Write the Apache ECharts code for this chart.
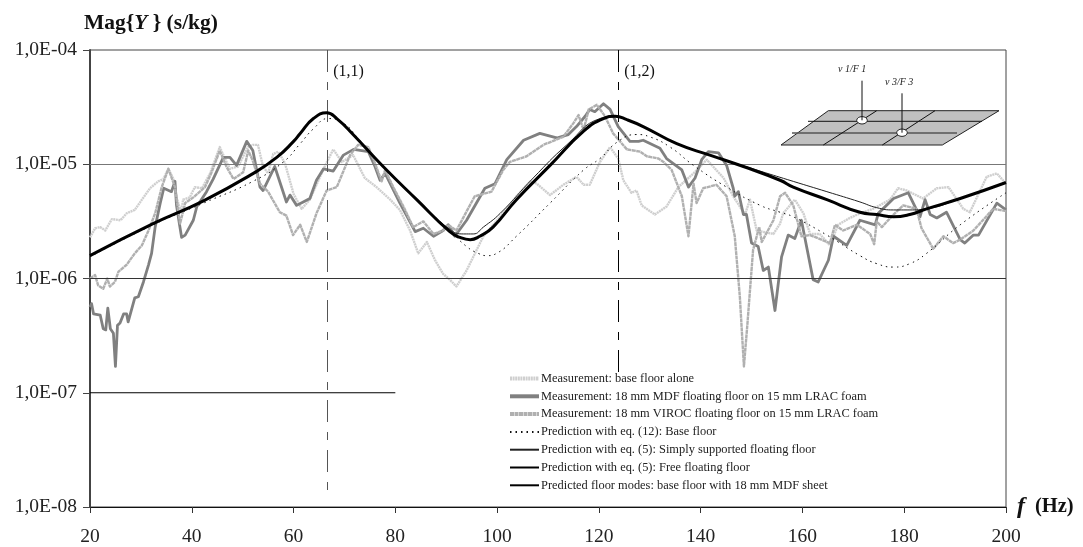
<!DOCTYPE html>
<html><head><meta charset="utf-8"><style>html,body{margin:0;padding:0;background:#fff}#c{width:1083px;height:547px}</style>
<script src="https://cdn.jsdelivr.net/npm/echarts@6/dist/echarts.min.js"></script></head><body><div id="c"></div>
<script>
// Every pair: [frequency in Hz, log10 of Mag{Y} in s/kg].
const baseFloorMeasured = [[20,-5.64],[21,-5.56],[22,-5.55],[23,-5.58],[24.3,-5.48],[26,-5.49],[27.2,-5.43],[28.8,-5.40],[30.2,-5.31],[31.8,-5.21],[33.4,-5.15],[34.4,-5.13],[35.4,-5.04],[36.4,-5.13],[37,-5.29],[37.9,-5.42],[38.3,-5.31],[39.6,-5.29],[40.6,-5.20],[42,-5.21],[43.6,-5.08],[45.5,-4.85],[46.5,-4.95],[47.5,-5.04],[49.1,-5.02],[51,-4.85],[52,-4.83],[53,-4.83],[54,-5.02],[55,-5.08],[56,-4.91],[57,-4.89],[58.3,-4.99],[60,-5.26],[61.6,-5.39],[63.2,-5.31],[65.9,-5.04],[67.8,-4.87],[69.5,-4.98],[71.7,-4.92],[74,-5.12],[76.3,-5.20],[79,-5.31],[80.9,-5.40],[82.9,-5.58],[84.5,-5.78],[86.2,-5.68],[87.8,-5.84],[89.4,-5.96],[90.7,-6.01],[92,-6.07],[94,-5.93],[97.3,-5.63],[100.6,-5.46],[103.8,-5.28],[106.5,-5.15],[107.8,-5.17],[110.4,-5.27],[113,-5.18],[115.6,-5.11],[117,-5.18],[118.2,-5.18],[120.2,-4.98],[122.2,-4.85],[123.8,-4.95],[124.8,-5.14],[126.4,-5.25],[127.4,-5.23],[128.4,-5.36],[131,-5.44],[133.3,-5.37],[135.6,-5.20],[138.6,-5.08],[141.2,-4.96],[144.5,-5.12],[146.4,-5.28],[148.7,-5.44],[149.7,-5.31],[151,-5.58],[154.3,-5.61],[155.6,-5.52],[156.2,-5.43],[158.5,-5.31],[160.2,-5.43],[161.5,-5.61],[163.4,-5.61],[165.4,-5.71],[167,-5.53],[169.3,-5.47],[171.3,-5.43],[173.9,-5.39],[177.2,-5.31],[178.8,-5.21],[180.5,-5.23],[183.7,-5.30],[186.4,-5.21],[188.7,-5.20],[191.6,-5.39],[192.9,-5.42],[196.2,-5.11],[198.2,-5.08],[200,-5.17]];
const mdfFloorMeasured = [[20,-6.25],[20.3,-6.22],[20.7,-6.31],[22,-6.32],[22.6,-6.44],[23.1,-6.45],[23.5,-6.26],[24,-6.44],[24.6,-6.48],[25,-6.77],[25.4,-6.41],[25.9,-6.39],[26.6,-6.31],[27.2,-6.31],[27.5,-6.38],[28.8,-6.17],[29.5,-6.16],[30.5,-6.03],[31.5,-5.88],[32.1,-5.78],[32.8,-5.55],[33.8,-5.34],[34.5,-5.21],[36,-5.24],[36.7,-5.15],[37,-5.36],[37.6,-5.53],[38,-5.64],[38.7,-5.62],[40.3,-5.49],[41,-5.37],[42.9,-5.24],[44.2,-5.13],[46.2,-4.94],[47.5,-4.94],[48.8,-5.01],[50.8,-4.80],[52,-4.88],[53.4,-5.20],[54,-5.23],[56.3,-5.02],[58.6,-5.33],[59.3,-5.27],[60.6,-5.36],[61.9,-5.33],[63.2,-5.30],[64.5,-5.14],[65.9,-5.04],[67.8,-5.06],[69.8,-4.92],[71.8,-4.87],[74.7,-4.89],[76,-5.02],[77,-5.14],[78,-5.08],[80.9,-5.34],[83.9,-5.59],[85.5,-5.56],[87.5,-5.63],[89.4,-5.58],[90.4,-5.53],[91.7,-5.63],[94,-5.49],[97.6,-5.21],[99.6,-5.17],[101.9,-4.96],[105.2,-4.79],[108.4,-4.73],[111.7,-4.77],[114,-4.74],[115.6,-4.67],[117.3,-4.58],[118.2,-4.52],[119.2,-4.54],[120.9,-4.47],[122.2,-4.52],[123.8,-4.67],[126.1,-4.80],[127.8,-4.80],[128.7,-4.79],[132,-4.86],[133.3,-4.95],[136.3,-5.05],[137.6,-5.20],[138.9,-5.12],[140.2,-4.96],[141.5,-4.89],[143.5,-4.90],[145.1,-5.01],[146.4,-5.21],[146.7,-5.28],[147.4,-5.24],[148.4,-5.44],[149,-5.44],[150,-5.69],[151.3,-5.72],[152.3,-5.93],[153.3,-5.90],[154.6,-6.28],[155.9,-5.81],[157.2,-5.62],[158.5,-5.65],[159.8,-5.49],[160.5,-5.65],[162.1,-6.01],[163.1,-6.03],[165.1,-5.84],[166.1,-5.63],[168.7,-5.71],[171.3,-5.49],[174.3,-5.53],[174.9,-5.43],[177.9,-5.30],[180.8,-5.25],[183.1,-5.46],[184.1,-5.31],[185.1,-5.44],[186.4,-5.47],[188.3,-5.42],[191,-5.66],[191.9,-5.69],[193.6,-5.62],[194.6,-5.62],[198.2,-5.34],[200,-5.40]];
const virocFloorMeasured = [[20,-6.0],[21,-5.97],[21.6,-6.06],[22.6,-6.09],[23.4,-6.0],[23.9,-6.07],[24.9,-6.03],[25.6,-5.94],[27.2,-5.88],[28.8,-5.78],[30.2,-5.71],[31.5,-5.58],[32.8,-5.43],[34.1,-5.2],[35.4,-5.04],[36.7,-5.2],[37.7,-5.52],[38.7,-5.34],[40.3,-5.29],[42.6,-5.2],[43.9,-5.07],[45.5,-4.88],[46.8,-5.02],[48.2,-5.13],[50.1,-5.07],[51.1,-4.88],[52,-4.97],[53.4,-5.17],[55,-5.24],[57.3,-5.42],[58.6,-5.45],[59.9,-5.62],[61.3,-5.53],[62.6,-5.68],[64.5,-5.43],[66.5,-5.23],[68.5,-5.20],[71.1,-4.92],[72.7,-4.83],[74.7,-4.85],[76,-4.99],[77.3,-5.15],[78,-5.05],[79.6,-5.20],[81.6,-5.37],[83.5,-5.55],[85.5,-5.50],[87.5,-5.61],[89.4,-5.58],[90.4,-5.53],[92,-5.58],[95.6,-5.28],[98.9,-5.24],[101.2,-5.05],[102.5,-4.98],[105.8,-4.93],[109.1,-4.83],[113,-4.76],[115,-4.64],[116,-4.57],[117,-4.70],[118,-4.52],[119.6,-4.48],[121.2,-4.58],[122.8,-4.73],[125.5,-4.87],[128.1,-4.89],[129.4,-4.93],[131.7,-4.95],[132.7,-4.98],[134.3,-5.05],[136.3,-5.28],[137.6,-5.63],[138.6,-5.17],[139.2,-5.34],[140.5,-5.21],[143.1,-5.18],[145.1,-5.28],[146.7,-5.63],[147.7,-6.16],[148.5,-6.77],[149.2,-6.39],[150.3,-5.75],[151.5,-5.55],[152,-5.68],[154.3,-5.49],[155.6,-5.28],[156.6,-5.25],[158.2,-5.36],[159.8,-5.63],[161.5,-5.62],[165.4,-5.69],[166.4,-5.53],[168,-5.58],[170.7,-5.53],[173.3,-5.61],[174.1,-5.70],[174.6,-5.50],[175.6,-5.55],[177.9,-5.44],[179.8,-5.36],[182.4,-5.39],[183.4,-5.56],[185.7,-5.74],[187.7,-5.63],[189.6,-5.69],[191,-5.66],[193.6,-5.58],[197.5,-5.39],[200,-5.41]];
const baseFloorPredicted = [[20,-5.81],[32.4,-5.53],[42.3,-5.34],[52,-5.15],[58,-4.98],[61.3,-4.82],[63.9,-4.69],[66.8,-4.60],[69.8,-4.64],[73,-4.79],[77.6,-5.02],[84.2,-5.31],[90.7,-5.58],[94,-5.72],[96.3,-5.78],[98,-5.80],[99.9,-5.78],[103.8,-5.63],[110.4,-5.34],[117,-5.05],[120.2,-4.95],[123.8,-4.80],[127.4,-4.74],[130,-4.76],[134,-4.85],[138.6,-5.01],[145.1,-5.20],[151.7,-5.36],[155.6,-5.42],[158.2,-5.46],[164.8,-5.62],[171.3,-5.80],[174.6,-5.87],[177.9,-5.90],[181.1,-5.87],[184.4,-5.78],[191,-5.53],[200,-5.25]];
const simplySupportedPredicted = [[20,-5.80],[32.4,-5.52],[42.3,-5.32],[52.1,-5.08],[56.7,-4.94],[60,-4.80],[63.9,-4.60],[66.5,-4.55],[68.5,-4.60],[71.7,-4.74],[77.6,-5.02],[84.2,-5.31],[90.7,-5.57],[93.4,-5.61],[95.3,-5.61],[97.3,-5.55],[100.6,-5.43],[107.1,-5.12],[113.7,-4.83],[120.2,-4.60],[123.2,-4.58],[125.5,-4.61],[128.7,-4.67],[135.3,-4.82],[141.8,-4.92],[151.7,-5.06],[158.2,-5.15],[164.8,-5.24],[171.3,-5.33],[174.6,-5.38],[177.9,-5.40],[181.1,-5.40],[184.4,-5.39],[191,-5.30],[200,-5.16]];
const freeFloatingPredicted = [[20,-5.80],[32.4,-5.52],[42.3,-5.32],[52.1,-5.08],[56.7,-4.94],[60,-4.80],[61.3,-4.73],[63.9,-4.60],[66.5,-4.55],[68.5,-4.60],[71.7,-4.74],[77.6,-5.02],[84.2,-5.31],[90.7,-5.59],[92.7,-5.64],[94.7,-5.66],[96.6,-5.63],[99.2,-5.55],[103.8,-5.31],[110.4,-5.01],[117,-4.71],[120.9,-4.60],[123.2,-4.58],[125.5,-4.61],[128.7,-4.67],[135.3,-4.82],[141.8,-4.92],[148.4,-5.02],[155.6,-5.14],[158.2,-5.20],[164.8,-5.31],[171.3,-5.42],[174.6,-5.44],[177.9,-5.46],[181.1,-5.44],[184.4,-5.39],[191,-5.30],[200,-5.16]];
const floorModeLine = [[20,-7],[80,-7]];
const modeFrequencies = [66.6, 123.8];
const modeLabels = ['(1,1)', '(1,2)'];
const yTickExponents = [-8,-7,-6,-5,-4];
const xTicks = [20,40,60,80,100,120,140,160,180,200];
const legendNames = ['Measurement: base floor alone','Measurement: 18 mm MDF floating floor on 15 mm LRAC foam','Measurement: 18 mm VIROC floating floor on 15 mm LRAC foam','Prediction with eq. (12): Base floor','Prediction with eq. (5): Simply supported floating floor','Prediction with eq. (5): Free floating floor','Predicted floor modes: base floor with 18 mm MDF sheet'];

const FONT = '"Liberation Serif","Times New Roman",serif';
const toY = a => a.map(p => [p[0], Math.pow(10, p[1])]);
const line = (i, data, color, width, extra) => Object.assign({
  type:'line', name:legendNames[i], data:toY(data), symbol:'none', silent:true, z:2+i,
  lineStyle:{color, width, join:'round'}, itemStyle:{color}
}, extra||{});

const series = [
  line(0, baseFloorMeasured, '#cfcfcf', 2.4, {lineStyle:{color:'#cfcfcf', width:2.4, type:[2,0.6], join:'round'}}),
  line(2, virocFloorMeasured, '#b0b0b0', 2.4, {lineStyle:{color:'#b0b0b0', width:2.4, type:[4,0.5], join:'round'}}),
  line(1, mdfFloorMeasured, '#808080', 2.8),
  line(3, baseFloorPredicted, '#111', 1, {smooth:0.5, lineStyle:{color:'#111', width:1, type:[1.5,4]}}),
  line(4, simplySupportedPredicted, '#222', 1, {smooth:0.5}),
  line(5, freeFloatingPredicted, '#000', 3, {smooth:0.5}),
  line(6, floorModeLine, '#000', 1, {
    markLine:{silent:true, symbol:'none', animation:false, label:{show:false}, data:[
      [{coord:[modeFrequencies[0],1e-4],lineStyle:{color:'#555',width:1,type:[22,10,8,10]}},{coord:[modeFrequencies[0],1.2e-8]}],
      [{coord:[modeFrequencies[1],1e-4],lineStyle:{color:'#000',width:1,type:[22,10,8,10]}},{coord:[modeFrequencies[1],1.2e-8]}],
      [{coord:[20,1e-5],lineStyle:{color:'#777',width:1,type:'solid'}},{coord:[200,1e-5]}],
      [{coord:[20,1e-6],lineStyle:{color:'#333',width:1,type:'solid'}},{coord:[200,1e-6]}]
    ]},
    markPoint:{silent:true, symbol:'circle', symbolSize:0, animation:false,
      data:modeFrequencies.map((f,i)=>({coord:[f,6.4e-5], value:modeLabels[i],
        label:{show:true, position:'right', distance:6, formatter:modeLabels[i], color:'#111', fontFamily:FONT, fontSize:16}}))}
  })
];

const chart = echarts.init(document.getElementById('c'), null, {renderer:'canvas'});
chart.setOption({
  animation:false, backgroundColor:'#fff',
  grid:{left:90, right:77, top:50, bottom:40, show:true, borderColor:'#444', borderWidth:1, backgroundColor:'transparent', containLabel:false},
  legend:{show:true, orient:'vertical', left:508, top:372.5, z:20, itemWidth:29, itemHeight:10, itemGap:5.8, padding:0, selectedMode:false, backgroundColor:'#fff',
    itemStyle:{opacity:0}, textStyle:{fontFamily:FONT, fontSize:12.4, color:'#222', padding:[0,0,0,-3]},
    data:legendNames.map((name,i)=> i<3 ? {name, lineStyle:{width:4}} : {name})},
  xAxis:{type:'value', min:20, max:200, interval:20, splitLine:{show:false},
    axisLine:{onZero:false, lineStyle:{color:'#111',width:1}},
    axisTick:{length:6, lineStyle:{color:'#333'}},
    axisLabel:{margin:20, color:'#222', fontFamily:FONT, fontSize:19.5, hideOverlap:false, showMinLabel:true, showMaxLabel:true, formatter:v=>xTicks.includes(v)?String(v):''},
    name:'{f|f}   {b|(Hz)}', nameLocation:'end', nameGap:11,
    nameTextStyle:{rich:{f:{fontFamily:FONT,fontStyle:'italic',fontWeight:'bold',fontSize:24,color:'#111'},b:{fontFamily:FONT,fontWeight:'bold',fontSize:20.5,color:'#111'}}}},
  yAxis:{type:'log', logBase:10, min:1e-8, max:1e-4, splitLine:{show:false}, minorTick:{show:false},
    axisLine:{show:true, onZero:false, lineStyle:{color:'#444',width:2}},
    axisTick:{length:7, lineStyle:{color:'#444'}},
    axisLabel:{margin:13, padding:[3,0,0,0], color:'#222', fontFamily:FONT, fontSize:19.5, formatter:v=>{const e=Math.round(Math.log10(v));return yTickExponents.includes(e)?'1,0E-0'+(-e):'';}},
    name:'Mag{{i|Y} } (s/kg)', nameLocation:'end', nameGap:16,
    nameTextStyle:{align:'left', padding:[0,0,0,-6], fontFamily:FONT, fontWeight:'bold', fontSize:21.5, color:'#111', rich:{i:{fontFamily:FONT,fontWeight:'bold',fontStyle:'italic',fontSize:21.5,color:'#111'}}}},
  series,
  graphic:[
    {type:'polygon', silent:true, z:1, shape:{points:[[828.3,110.7],[999,110.7],[942.3,145],[781,145]]}, style:{fill:'#c0c0c0',stroke:'#222',lineWidth:1}},
    {type:'line', silent:true, z:1, shape:{x1:808,y1:121.3,x2:982,y2:121.3}, style:{stroke:'#111',lineWidth:1}},
    {type:'line', silent:true, z:1, shape:{x1:792,y1:133,x2:957,y2:133}, style:{stroke:'#555',lineWidth:1.5}},
    {type:'line', silent:true, z:1, shape:{x1:876.7,y1:110.7,x2:823.3,y2:145}, style:{stroke:'#111',lineWidth:1}},
    {type:'line', silent:true, z:1, shape:{x1:935,y1:110.7,x2:882.3,y2:145}, style:{stroke:'#111',lineWidth:1}},
    {type:'ellipse', silent:true, z:1, shape:{cx:862,cy:120.3,rx:5.3,ry:3.7}, style:{fill:'#fff',stroke:'#222',lineWidth:1}},
    {type:'ellipse', silent:true, z:1, shape:{cx:902,cy:132.7,rx:5.3,ry:3.7}, style:{fill:'#fff',stroke:'#222',lineWidth:1}},
    {type:'line', silent:true, z:1, shape:{x1:862,y1:80.7,x2:862,y2:120.3}, style:{stroke:'#111',lineWidth:1}},
    {type:'line', silent:true, z:1, shape:{x1:902,y1:93.3,x2:902,y2:132.7}, style:{stroke:'#111',lineWidth:1}},
    {type:'text', silent:true, z:1, x:838, y:64, style:{text:'v 1/F 1', font:'italic 10px "Liberation Serif"', fill:'#222'}},
    {type:'text', silent:true, z:1, x:885, y:77, style:{text:'v 3/F 3', font:'italic 10px "Liberation Serif"', fill:'#222'}}
  ]
});
</script></body></html>
